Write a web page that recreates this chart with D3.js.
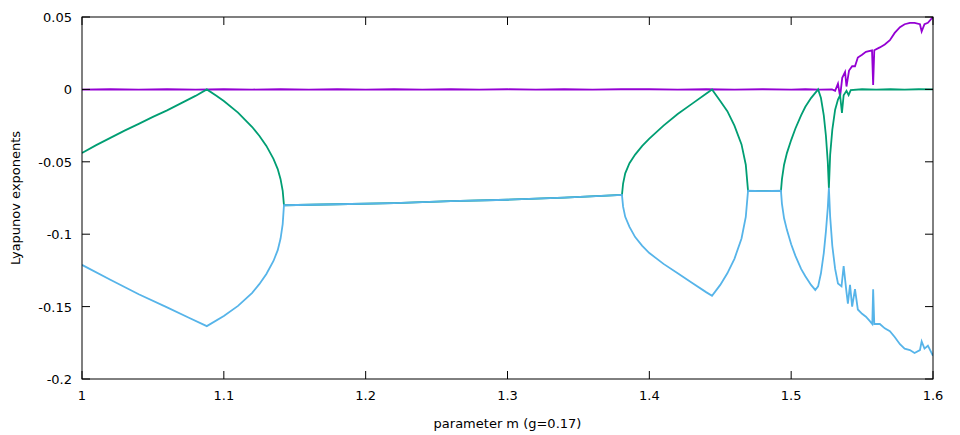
<!DOCTYPE html>
<html><head><meta charset="utf-8">
<script src="https://cdn.jsdelivr.net/npm/d3@7"></script>
<style>body{margin:0;background:#fff}text{font-family:"DejaVu Sans",sans-serif;font-size:13px}</style>
</head><body><svg id="c" width="960" height="435"></svg>
<script>
// [m, lambda]
const lam1 = [[1,-0.0002],[1.02,0.0001],[1.04,-0.0002],[1.06,0.0001],[1.08,-0.0002],[1.1,0.0001],[1.12,-0.0001],
  [1.14,0.0001],[1.16,-0.0002],[1.18,0.0001],[1.2,-0.0001],[1.22,0.0001],[1.24,-0.0002],[1.26,0.0001],[1.28,-0.0001],
  [1.3,0.0001],[1.32,-0.0001],[1.34,0.0001],[1.36,-0.0002],[1.38,0.0001],[1.4,0.0001],[1.42,-0.0001],[1.44,0.0001],
  [1.46,-0.0002],[1.48,0.0001],[1.5,-0.0001],[1.51,0.0001],[1.52,-0.0001],[1.5288,0],[1.531,-0.001],[1.533,0.004],
  [1.5345,-0.005],[1.536,0.008],[1.538,0.012],[1.539,0.002],[1.5408,0.013],[1.543,0.016],[1.545,0.016],[1.547,0.022],
  [1.55,0.024],[1.5527,0.026],[1.557,0.027],[1.5578,0.003],[1.5586,0.027],[1.5625,0.029],[1.566,0.031],[1.5696,0.034],
  [1.573,0.039],[1.5767,0.043],[1.58,0.045],[1.5837,0.046],[1.587,0.046],[1.5908,0.045],[1.592,0.040],[1.594,0.045],
  [1.5964,0.046],[1.6,0.050]];
const lam2 = [[1,-0.0439],[1.01,-0.0385],[1.02,-0.0335],[1.03,-0.0285],[1.04,-0.0238],[1.05,-0.019],[1.06,-0.0145],
  [1.07,-0.0095],[1.08,-0.0045],[1.088,0],[1.095,-0.0045],[1.1,-0.008],[1.11,-0.016],[1.12,-0.026],[1.125,-0.032],
  [1.13,-0.039],[1.135,-0.048],[1.138,-0.055],[1.14,-0.062],[1.1415,-0.070],[1.1424,-0.080],
  [1.18,-0.0793],[1.22,-0.0785],[1.26,-0.0772],[1.3,-0.0762],[1.34,-0.0748],[1.3807,-0.0729],
  [1.3815,-0.065],[1.383,-0.058],[1.386,-0.051],[1.39,-0.045],[1.395,-0.039],[1.40,-0.034],[1.41,-0.025],
  [1.42,-0.017],[1.43,-0.010],[1.44,-0.003],[1.4442,0],[1.45,-0.008],[1.455,-0.015],[1.46,-0.025],[1.465,-0.038],
  [1.468,-0.052],[1.4696,-0.070],[1.48,-0.0702],[1.4928,-0.0700],[1.4935,-0.062],[1.495,-0.052],[1.497,-0.044],
  [1.50,-0.035],[1.503,-0.027],[1.507,-0.018],[1.51,-0.012],[1.514,-0.006],[1.519,0],[1.521,-0.006],[1.523,-0.018],
  [1.5245,-0.032],[1.5258,-0.050],[1.5266,-0.068],[1.5275,-0.045],[1.529,-0.028],[1.531,-0.014],[1.533,-0.007],
  [1.5345,-0.004],[1.5358,-0.0163],[1.537,-0.004],[1.539,-0.001],[1.5405,-0.004],[1.542,-0.0005],[1.55,0.0001],
  [1.56,-0.0001],[1.57,0.0001],[1.58,-0.0001],[1.59,0.0001],[1.6,0]];
const lam3 = [[1,-0.1212],[1.02,-0.1315],[1.04,-0.1415],[1.06,-0.1505],[1.075,-0.1575],[1.088,-0.1635],[1.10,-0.1565],
  [1.11,-0.1495],[1.12,-0.1405],[1.125,-0.1345],[1.13,-0.1275],[1.135,-0.1185],[1.138,-0.111],[1.14,-0.103],[1.1415,-0.093],[1.1424,-0.080],
  [1.18,-0.0793],[1.22,-0.0785],[1.26,-0.0772],[1.3,-0.0762],[1.34,-0.0748],[1.3807,-0.0729],
  [1.3815,-0.081],[1.383,-0.088],[1.386,-0.095],[1.39,-0.102],[1.395,-0.108],[1.40,-0.113],[1.41,-0.1205],[1.42,-0.127],
  [1.43,-0.1335],[1.44,-0.1400],[1.4442,-0.1426],[1.45,-0.135],[1.455,-0.127],[1.46,-0.117],[1.465,-0.103],[1.468,-0.088],
  [1.4696,-0.070],[1.48,-0.0702],[1.4928,-0.0700],[1.4935,-0.079],[1.495,-0.089],[1.497,-0.097],[1.50,-0.107],[1.503,-0.115],
  [1.507,-0.124],[1.51,-0.129],[1.514,-0.135],[1.517,-0.1385],[1.519,-0.136],[1.521,-0.127],[1.523,-0.113],[1.5245,-0.098],
  [1.5258,-0.082],[1.5266,-0.068],[1.5275,-0.088],[1.529,-0.108],[1.531,-0.124],[1.533,-0.134],[1.5355,-0.136],
  [1.537,-0.122],[1.539,-0.140],[1.540,-0.148],[1.5415,-0.135],[1.543,-0.150],[1.545,-0.138],[1.547,-0.152],[1.55,-0.155],
  [1.5527,-0.157],[1.5555,-0.160],[1.5572,-0.162],[1.5578,-0.138],[1.5586,-0.162],[1.5625,-0.162],[1.566,-0.165],
  [1.5696,-0.167],[1.573,-0.171],[1.5767,-0.176],[1.58,-0.179],[1.5837,-0.180],[1.587,-0.182],[1.5908,-0.180],
  [1.592,-0.174],[1.594,-0.179],[1.5964,-0.177],[1.6,-0.184]];
const xTicks = [1,1.1,1.2,1.3,1.4,1.5,1.6];
const yTicks = ["0.05","0","-0.05","-0.1","-0.15","-0.2"];

const svg = d3.select("#c");
const L=82,R=933,T=17,B=379;
const x = d3.scaleLinear().domain([1,1.6]).range([L,R]);
const y = d3.scaleLinear().domain([-0.2,0.05]).range([B,T]);

svg.append("clipPath").attr("id","cp").append("rect")
  .attr("x",L).attr("y",T).attr("width",R-L).attr("height",B-T);
const line = d3.line().x(d=>x(d[0])).y(d=>y(d[1]));
const g = svg.append("g").attr("clip-path","url(#cp)");
[[lam1,"#9400d3"],[lam2,"#009e73"],[lam3,"#56b4e9"]].forEach(([d,c])=>{
  g.append("path").datum(d).attr("d",line).attr("fill","none").attr("stroke",c).attr("stroke-width",1.8);
});

const tl=8;
xTicks.forEach(t=>{
  svg.append("line").attr("x1",x(t)).attr("x2",x(t)).attr("y1",B).attr("y2",B-tl).attr("stroke","#000");
  svg.append("line").attr("x1",x(t)).attr("x2",x(t)).attr("y1",T).attr("y2",T+tl).attr("stroke","#000");
  svg.append("text").attr("x",x(t)).attr("y",B+21).attr("text-anchor","middle").text(String(t));
});
yTicks.forEach(t=>{
  svg.append("line").attr("x1",L).attr("x2",L+tl).attr("y1",y(+t)).attr("y2",y(+t)).attr("stroke","#000");
  svg.append("line").attr("x1",R).attr("x2",R-tl).attr("y1",y(+t)).attr("y2",y(+t)).attr("stroke","#000");
  svg.append("text").attr("x",L-10).attr("y",y(+t)+5).attr("text-anchor","end").text(t);
});
svg.append("rect").attr("x",L).attr("y",T).attr("width",R-L).attr("height",B-T)
  .attr("fill","none").attr("stroke","#000");
svg.append("text").attr("x",(L+R)/2).attr("y",428).attr("text-anchor","middle").text("parameter m (g=0.17)");
svg.append("text").attr("transform",`translate(20,${(T+B)/2}) rotate(-90)`).attr("text-anchor","middle").text("Lyapunov exponents");
</script></body></html>
